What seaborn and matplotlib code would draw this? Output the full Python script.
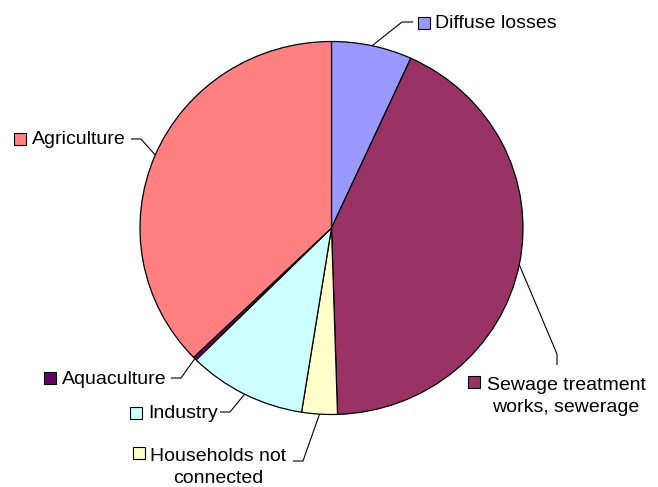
import matplotlib
matplotlib.use("Agg")
import matplotlib.pyplot as plt
import seaborn as sns
import numpy as np

# ---- data ----
categories = ["Diffuse losses", "Sewage treatment\nworks, sewerage", "Households not\nconnected",
              "Industry", "Aquaculture", "Agriculture"]
shares = [6.8, 42.7, 3.0, 10.0, 0.3, 37.2]
colors = ["#9999FF", "#993366", "#FFFFCC", "#CCFFFF", "#660066", "#FF8080"]

sns.set_theme(style="white")
plt.rcParams['font.family'] = ['Liberation Sans', 'DejaVu Sans']

W, H = 658, 487
fig = plt.figure(figsize=(W / 100, H / 100), dpi=100)
ax = fig.add_axes([0, 0, 1, 1])
CX, CY, RX, RY = 331.5, 228.0, 191.5, 186.5

wedges, _ = ax.pie(shares, colors=sns.color_palette(colors), startangle=90, counterclock=False,
                   radius=1, wedgeprops=dict(edgecolor='black', linewidth=0.9))
ax.set_aspect('auto')
ax.set_xlim(-CX / RX, (W - CX) / RX)
ax.set_ylim(-(H - CY) / RY, CY / RY)
ax.axis('off')


def P(x, y):
    return ((x - CX) / RX, (CY - y) / RY)


# label layout in pixel positions
layout = [
    dict(path=[(402, 22), (413, 22)], sq=(424, 23), txt=(435, 23.5), ha='left'),
    dict(path=[(557, 354), (557, 365)], sq=(474, 382), txt=(566, 396.5), ha='center'),
    dict(path=[(303, 461), (293, 461)], sq=(139, 453), txt=(218, 467.5), ha='center'),
    dict(path=[(230, 412), (220, 412)], sq=(136, 413), txt=(148, 414), ha='left'),
    dict(path=[(181, 378), (171, 378)], sq=(50, 378), txt=(62, 380), ha='left'),
    dict(path=[(141, 139), (131, 139)], sq=(19.5, 138.5), txt=(31.5, 140), ha='left'),
]

for w, lab, col, lay in zip(wedges, categories, colors, layout):
    th = np.deg2rad((w.theta1 + w.theta2) / 2)
    pts = [(np.cos(th), np.sin(th))] + [P(*p) for p in lay['path']]
    xs, ys = zip(*pts)
    ax.plot(xs, ys, color='black', lw=0.8, solid_capstyle='butt')
    sx, sy = P(*lay['sq'])
    ax.plot([sx], [sy], marker='s', markersize=8.2, mfc=col, mec='black', mew=0.8)
    tx, ty = P(*lay['txt'])
    ax.text(tx, ty, lab, ha=lay['ha'], va='center', fontsize=14, color='black',
            linespacing=1.4, multialignment='center')

fig.savefig("out.png", dpi=100)
